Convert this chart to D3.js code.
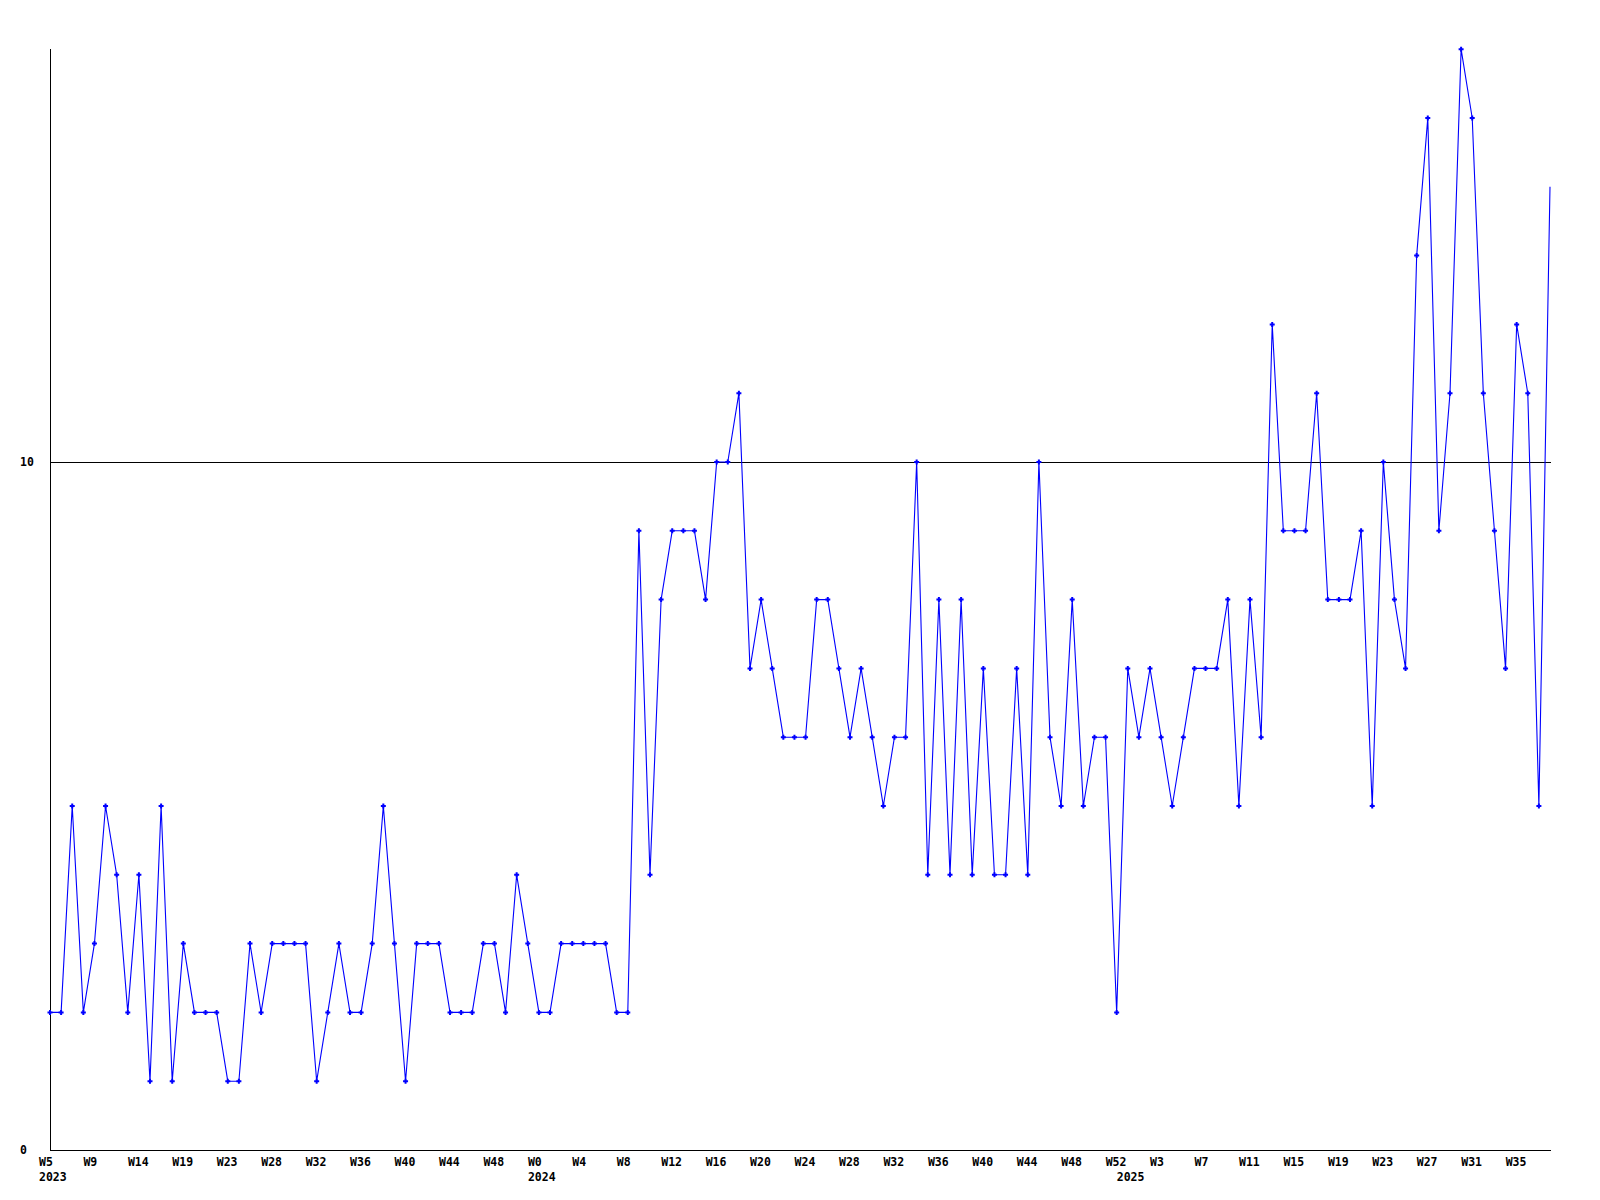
<!DOCTYPE html>
<html>
<head>
<meta charset="utf-8">
<script src="https://cdn.jsdelivr.net/npm/d3@7"></script>
<style>
  html, body { margin: 0; padding: 0; background: #ffffff; }
  svg { display: block; }
  text { font-family: "DejaVu Sans Mono", monospace; font-weight: bold; font-size: 11.5px; fill: #000; }
</style>
</head>
<body>
<script>
// ---- data ----
const values = [
  2, 2, 5, 2, 3, 5, 4, 2, 4, 1,
  5, 1, 3, 2, 2, 2, 1, 1, 3, 2,
  3, 3, 3, 3, 1, 2, 3, 2, 2, 3,
  5, 3, 1, 3, 3, 3, 2, 2, 2, 3,
  3, 2, 4, 3, 2, 2, 3, 3, 3, 3,
  3, 2, 2, 9, 4, 8, 9, 9, 9, 8,
  10, 10, 11, 7, 8, 7, 6, 6, 6, 8,
  8, 7, 6, 7, 6, 5, 6, 6, 10, 4,
  8, 4, 8, 4, 7, 4, 4, 7, 4, 10,
  6, 5, 8, 5, 6, 6, 2, 7, 6, 7,
  6, 5, 6, 7, 7, 7, 8, 5, 8, 6,
  12, 9, 9, 9, 11, 8, 8, 8, 9, 5,
  10, 8, 7, 13, 15, 9, 11, 16, 15, 11,
  9, 7, 12, 11, 5, 14
];
const weekTickLabels = ["W5","W9","W14","W19","W23","W28","W32","W36","W40","W44","W48",
  "W0","W4","W8","W12","W16","W20","W24","W28","W32","W36","W40","W44","W48","W52",
  "W3","W7","W11","W15","W19","W23","W27","W31","W35"];
const weekTickIndex = weekTickLabels.map((d, i) => i * 4);
const yearLabels = ["2023", "2024", "2025"];
const yearIndex = [0, 44, 97];
const yTickValues = [0, 10];

// ---- layout ----
const W = 1600, H = 1200;
const svg = d3.select("body").append("svg").attr("width", W).attr("height", H);

const x = d3.scaleLinear().domain([0, values.length - 1]).range([50, 1550]);
const y = d3.scaleLinear().domain([0, 16]).range([1150, 49.2]);

// axes lines
svg.append("line")
  .attr("x1", 50.5).attr("x2", 50.5)
  .attr("y1", Math.round(y(16))).attr("y2", Math.round(y(0)) + 0.5)
  .attr("stroke", "#000").attr("stroke-width", 1).attr("shape-rendering", "crispEdges");
svg.append("line")
  .attr("x1", 50).attr("x2", 1551)
  .attr("y1", Math.round(y(0)) + 0.5).attr("y2", Math.round(y(0)) + 0.5)
  .attr("stroke", "#000").attr("stroke-width", 1).attr("shape-rendering", "crispEdges");

// gridline at 10
svg.selectAll("line.grid").data(yTickValues.filter(v => v !== 0)).enter().append("line")
  .attr("class", "grid")
  .attr("x1", 50).attr("x2", 1551)
  .attr("y1", d => Math.round(y(d)) + 0.5).attr("y2", d => Math.round(y(d)) + 0.5)
  .attr("stroke", "#000").attr("stroke-width", 1).attr("shape-rendering", "crispEdges");

// y labels
svg.selectAll("text.ylab").data(yTickValues).enter().append("text")
  .attr("class", "ylab")
  .attr("x", 20)
  .attr("y", d => y(d) + 4)
  .text(d => d);

// x week labels
svg.selectAll("text.wk").data(weekTickLabels).enter().append("text")
  .attr("class", "wk")
  .attr("x", (d, i) => x(weekTickIndex[i]) - 11)
  .attr("y", 1166)
  .text(d => d);

// year labels
svg.selectAll("text.yr").data(yearLabels).enter().append("text")
  .attr("class", "yr")
  .attr("x", (d, i) => x(yearIndex[i]) - 11)
  .attr("y", 1181)
  .text(d => d);

// data line
const line = d3.line().x((d, i) => x(i)).y(d => y(d));
svg.append("path")
  .datum(values)
  .attr("d", line)
  .attr("fill", "none")
  .attr("stroke", "#0000ff")
  .attr("stroke-width", 1.1);

// markers (last point has none)
const markerPath = "M-1,-2.5h2v1.5h1.5v2h-1.5v1.5h-2v-1.5h-1.5v-2h1.5z";
svg.selectAll("path.mk").data(values.slice(0, values.length - 1)).enter().append("path")
  .attr("class", "mk")
  .attr("d", markerPath)
  .attr("transform", (d, i) => `translate(${x(i)},${y(d)})`)
  .attr("fill", "#0000ff");
</script>
</body>
</html>
